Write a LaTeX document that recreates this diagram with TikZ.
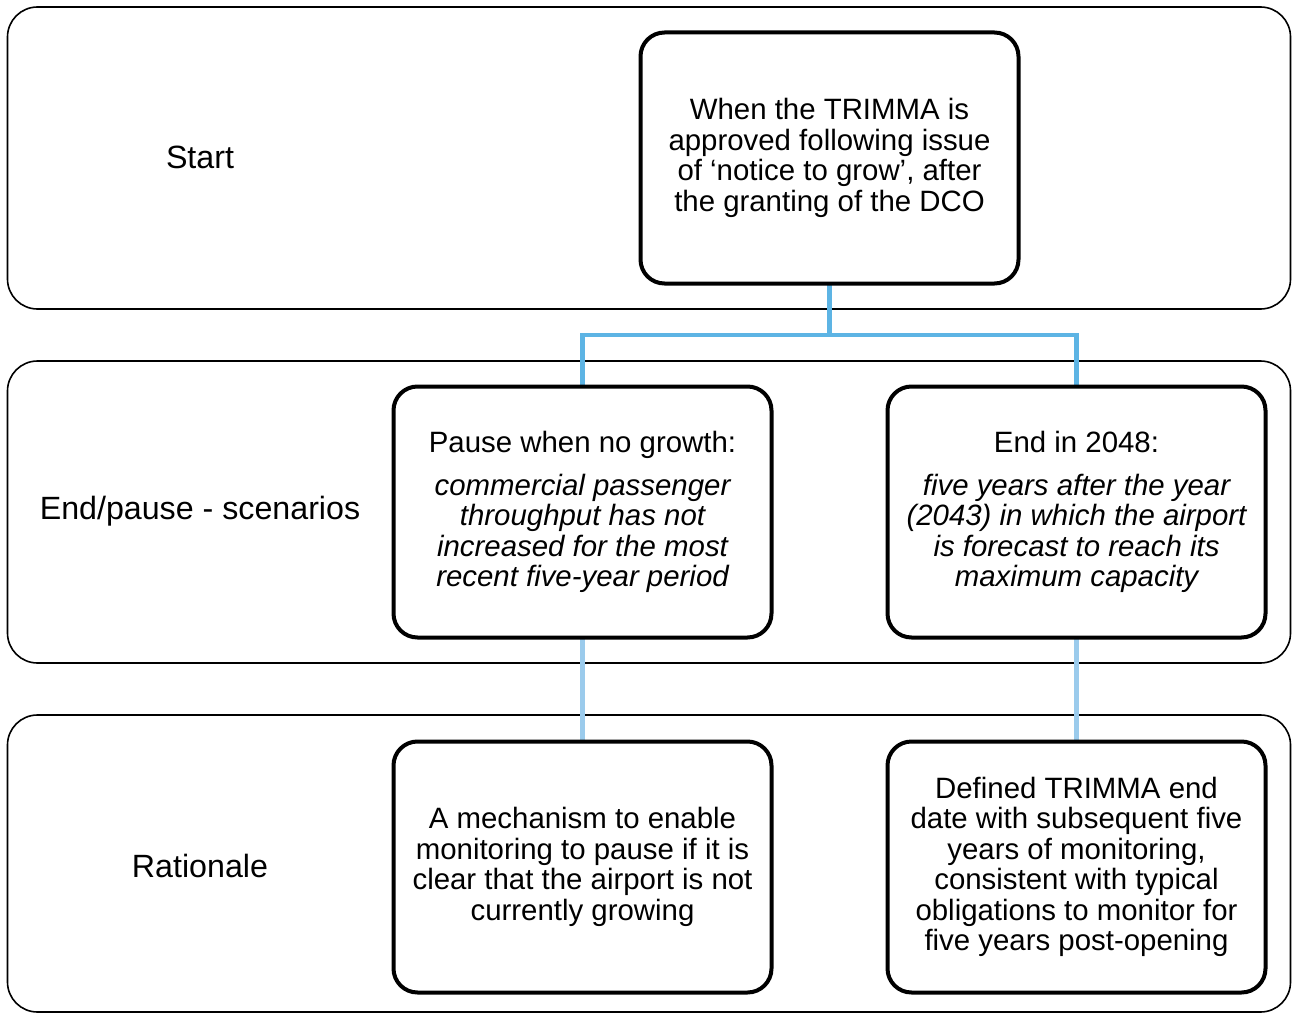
\documentclass[tikz,border=0pt]{standalone}
\usepackage{fontspec}
\setmainfont{Liberation Sans}
\begin{document}
\begin{tikzpicture}[x=1pt,y=-1pt,
  band/.style={draw=black, line width=1.6pt, rounded corners=30pt, minimum width=1283pt, inner sep=0pt},
  box/.style={draw=black, line width=4pt, rounded corners=24pt, minimum width=378pt, minimum height=251pt, align=center, inner sep=0pt, font=\fontsize{29.4}{30.5}\selectfont},
  lbl/.style={font=\fontsize{32.2}{36}\selectfont, align=center},
  conn/.style={draw={rgb,255:red,93;green,180;blue,228}, line width=4.5pt},
  connl/.style={draw={rgb,255:red,155;green,203;blue,236}, line width=4.5pt}]
\useasboundingbox (0,0) rectangle (1293,1014);
% bands
\node[band, minimum height=302pt] (b1) at (649,158) {};
\node[band, minimum height=302pt] (b2) at (649,512) {};
\node[band, minimum height=297pt] (b3) at (649,863.5) {};
\node[lbl] (l1) at (200,157) {Start};
\node[lbl] (l2) at (200,511) {End/pause - scenarios};
\node[lbl] (l3) at (200,866) {Rationale};
% connectors (drawn first, under boxes)
\coordinate (j) at (829.5,335);
\coordinate (topb) at (829.5,285);
\coordinate (mln) at (582.5,385);
\coordinate (mrn) at (1076.5,385);
\draw[conn] (topb) -- (j);
\draw[conn] (mln) |- (j) -| (mrn);
\coordinate (mls) at (582.5,639);
\coordinate (mrs) at (1076.5,639);
\coordinate (bln) at (582.5,740);
\coordinate (brn) at (1076.5,740);
\draw[connl] (mls) -- (bln);
\draw[connl] (mrs) -- (brn);
% boxes
\node[box, fill=white] (top) at (829.5,158) {When the TRIMMA is\\approved following issue\\of ‘notice to grow’, after\\the granting of the DCO};
\node[box] (ml) at (582.5,512) {Pause when no growth:\\[12pt]\itshape commercial passenger\\\itshape throughput has not\\\itshape increased for the most\\\itshape recent five-year period};
\node[box] (mr) at (1076.5,512) {End in 2048:\\[12pt]\itshape five years after the year\\\itshape (2043) in which the airport\\\itshape is forecast to reach its\\\itshape maximum capacity};
\node[box] (bl) at (582.5,867) {A mechanism to enable\\monitoring to pause if it is\\clear that the airport is not\\currently growing};
\node[box] (br) at (1076.5,867) {Defined TRIMMA end\\date with subsequent five\\years of monitoring,\\consistent with typical\\obligations to monitor for\\five years post-opening};
\end{tikzpicture}
\end{document}
